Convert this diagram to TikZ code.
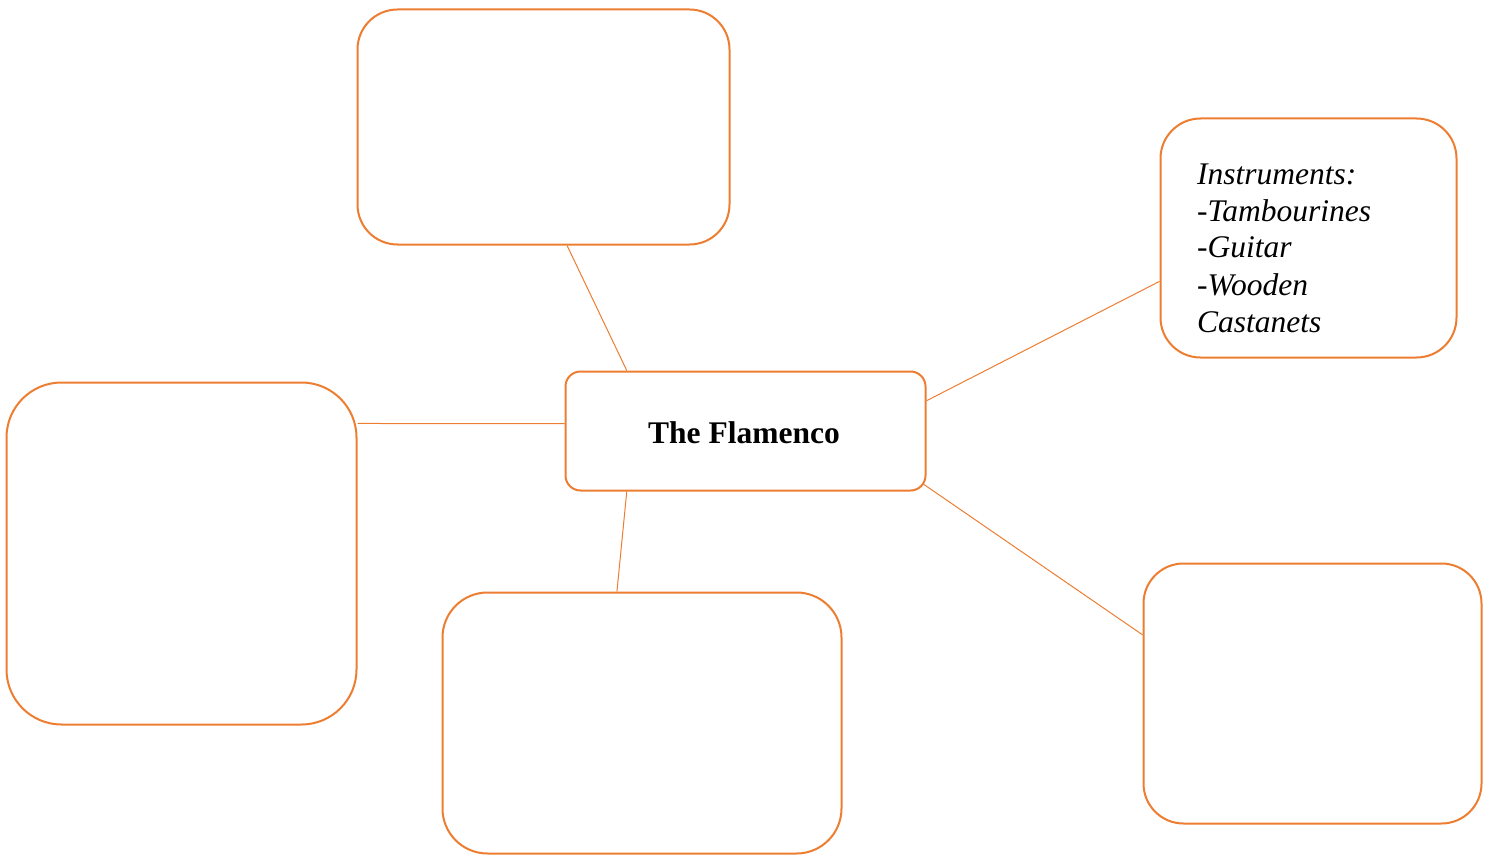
\documentclass[tikz,border=0pt]{standalone}
\usepackage{fontspec}
\setmainfont{Liberation Serif}
\usetikzlibrary{calc}
\definecolor{acc}{HTML}{ED7D31}
\tikzset{
  box/.style={draw=acc, line width=2pt, fill=white, inner sep=0pt, rectangle, rounded corners=#1},
  link/.style={draw=acc, line width=1pt},
  lbl/.style={inner sep=0pt, anchor=base west, font=\fontsize{31.5}{37}\selectfont\itshape},
}
\begin{document}
\begin{tikzpicture}[x=1pt,y=-1pt]
\useasboundingbox (0,0) rectangle (1491,856);
\node[box=40pt, minimum width=372pt, minimum height=235pt] (top) at (543.5,127) {};
\node[box=40pt, minimum width=296pt, minimum height=239pt] (rt) at (1308.5,238) {};
\node[box=15pt, minimum width=360pt, minimum height=119pt] (c) at (745.5,431) {};
\node[box=55pt, minimum width=350pt, minimum height=342pt] (lf) at (181.5,553.5) {};
\node[box=45pt, minimum width=399pt, minimum height=261pt] (bt) at (642,723) {};
\node[box=40pt, minimum width=338pt, minimum height=260pt] (rb) at (1312.5,693.5) {};

\node[inner sep=0pt, anchor=base, font=\fontsize{31.5}{37}\selectfont\bfseries] (ct) at (744,443) {The Flamenco};

\node[lbl] (l1) at (1197,184) {Instruments:};
\node[lbl] (l2) at (1197,221) {-Tambourines};
\node[lbl] (l3) at (1197,257) {-Guitar};
\node[lbl] (l4) at (1197,295) {-Wooden};
\node[lbl] (l5) at (1197,332) {Castanets};

\coordinate (ca) at ($(c.north west)!0.172!(c.north east)$);
\coordinate (ta) at ($(top.south west)!0.563!(top.south east)$);
\coordinate (cw) at ($(c.north west)!0.44!(c.south west)$);
\coordinate (lw) at ($(lf.north east)!0.122!(lf.south east)$);
\coordinate (cb) at ($(c.south west)!0.172!(c.south east)$);
\coordinate (bw) at ($(bt.north west)!0.4375!(bt.north east)$);
\coordinate (ce) at ($(c.north east)!0.25!(c.south east)$);
\coordinate (rw) at ($(rt.north west)!0.68!(rt.south west)$);
\coordinate (cs) at ($(c.south east)+(-4,-8)$);
\coordinate (rbw) at ($(rb.north west)!0.276!(rb.south west)$);

\begin{scope}[on background layer/.style={}]
\draw[link] (ta) -- (ca);
\draw[link] (lw) -- (cw);
\draw[link] (cb) -- (bw);
\draw[link] (ce) -- (rw);
\draw[link] (cs) -- (rbw);
\end{scope}
\end{tikzpicture}
\end{document}
